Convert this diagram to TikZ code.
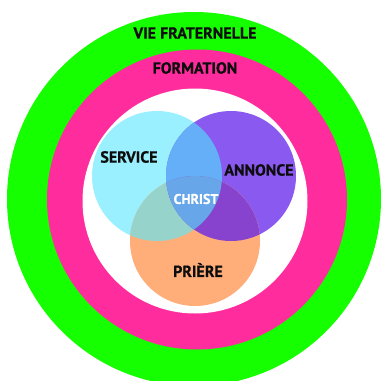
\documentclass[tikz,border=0pt]{standalone}
\usepackage{fontspec}
\setmainfont{PT Sans}[BoldFeatures={FakeBold=0.6}]

\definecolor{vert}{HTML}{15FF00}
\definecolor{rose}{HTML}{FF2C9E}
\definecolor{cyanclair}{HTML}{9AF0FF}
\definecolor{violet}{HTML}{8A5AF0}
\definecolor{orange}{HTML}{FFAE7A}
\definecolor{cyanviolet}{HTML}{65AEF8}
\definecolor{cyanorange}{HTML}{96D3CB}
\definecolor{violetorange}{HTML}{8743CE}
\definecolor{centre}{HTML}{66A6E9}

\begin{document}
\begin{tikzpicture}[x=1pt, y=-1pt]
				\tikzstyle{label}=[text=black!95, font=\bfseries\fontsize{16}{18}\selectfont, inner sep=0pt]
				
				\useasboundingbox (0, 0) rectangle (381, 381);
				\clip (0, 0) rectangle (381, 381);
				
				% anneaux
				\fill[vert] (194, 199) circle (187);
				\fill[rose] (197, 199.5) circle (150);
				\fill[white] (195, 201) circle (112.5);
				
				% cercles
				\fill[cyanclair] (157, 176) circle (65);
				\fill[violet] (231, 176) circle (65);
				\fill[orange] (195, 241) circle (65);
				
				% intersections
				\begin{scope}
				\clip (157, 176) circle (65);
				\fill[cyanviolet] (231, 176) circle (65);
				\fill[cyanorange] (195, 241) circle (65);
				\end{scope}
				\begin{scope}
				\clip (231, 176) circle (65);
				\fill[violetorange] (195, 241) circle (65);
				\clip (157, 176) circle (65);
				\fill[centre] (195, 241) circle (65);
				\end{scope}
				
				\node[label] at (195, 33)  (VF)  {VIE FRATERNELLE};
				\node[label] at (195, 68)  (F)  {FORMATION};
				\node[label] at (129, 157) (S)  {SERVICE};
				\node[label] at (259, 170) (A)  {ANNONCE};
				\node[label] at (198, 270) (P)  {PRIÈRE};
				\node[label, text=white, font=\bfseries\fontsize{14}{16}\selectfont] at (196, 199) (C)  {CHRIST};
		  \end{tikzpicture}
\end{document}
